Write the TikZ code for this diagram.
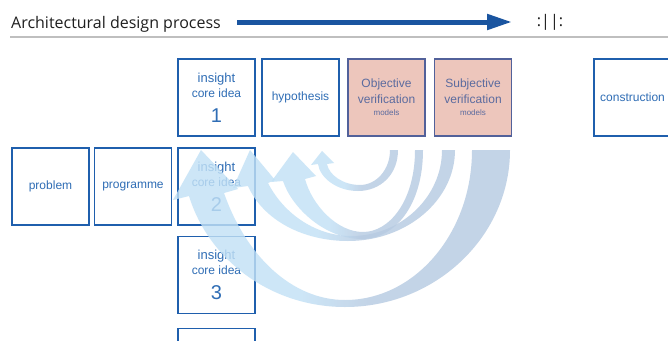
\documentclass[tikz,border=0pt]{standalone}
\usepackage{fontspec}
\setmainfont{Liberation Sans}
\newfontfamily\headfont{Open Sans}
\usetikzlibrary{arrows.meta}

\definecolor{boxblue}{HTML}{1F5FAD}
\definecolor{textblue}{HTML}{2F6DB5}
\definecolor{verifpink}{HTML}{EDC6BC}
\definecolor{verifline}{HTML}{52619A}
\definecolor{veriftext}{HTML}{5B6B9F}
\definecolor{headblue}{HTML}{1A55A0}
\definecolor{skyswoosh}{HTML}{C2E1F6}
\definecolor{steelswoosh}{HTML}{B7CBE2}

\pgfdeclarehorizontalshading{swoosh}{100bp}{color(0bp)=(skyswoosh); color(25bp)=(skyswoosh); color(44bp)=(skyswoosh); color(54bp)=(steelswoosh); color(75bp)=(steelswoosh); color(100bp)=(steelswoosh)}

\newcommand{\insighttext}[1]{{\fontsize{13}{15}\selectfont insight}\\core idea\\[10pt]{\fontsize{20}{24}\selectfont #1}}

\begin{document}
\begin{tikzpicture}[x=1pt,y=-1pt]

\tikzset{BoxStyle/.style={draw=boxblue, line width=1.6pt, minimum size=77pt, inner sep=0pt,
    text=textblue, align=center, font=\fontsize{12}{15}\selectfont}}
\tikzset{VerifStyle/.style={BoxStyle, draw=verifline, fill=verifpink, text=veriftext,
    font=\fontsize{12}{16}\selectfont}}
\tikzset{SwooshStyle/.style={shade, shading=swoosh, opacity=0.82}}

\fill[white] (0,0) rectangle (668,340);
\useasboundingbox (0,0) rectangle (668,340);

\node[anchor=base west, inner sep=0pt, text=black!88, font=\headfont\fontsize{16}{19}\selectfont] (title) at (11,28) {Architectural design process};
\node[inner sep=0pt, text=black!88, font=\headfont\fontsize{16}{19}\selectfont] (mark) at (550,22) {:||:};
\coordinate (hdr-start) at (237,22);
\coordinate (hdr-end) at (512,22);
\draw[headblue, line width=5pt, -{Triangle[length=25pt,width=15pt]}] (hdr-start) -- (hdr-end);
\coordinate (rule-l) at (10,37);
\coordinate (rule-r) at (668,37);
\draw[gray!50, line width=1.5pt] (rule-l) -- (rule-r);

\node[BoxStyle] (problem) at (50.5,186.5) {problem};
\node[BoxStyle] (programme) at (133,186.5) {programme};
\node[BoxStyle] (insight1) at (216.5,97.5) {\insighttext{1}};
\node[BoxStyle] (insight2) at (216.5,186.5) {\insighttext{2}};
\node[BoxStyle] (insight3) at (216.5,275) {\insighttext{3}};
\node[BoxStyle] (insight4) at (216.5,367) {};
\node[BoxStyle] (hypothesis) at (300.5,97.5) {hypothesis};
\node[VerifStyle] (objective) at (386.5,97.5) {Objective\\verification\\[-4pt]{\fontsize{8}{10}\selectfont models}};
\node[VerifStyle] (subjective) at (473,97.5) {Subjective\\verification\\[-4pt]{\fontsize{8}{10}\selectfont models}};
\node[BoxStyle] (construction) at (632.5,97.5) {construction};

\path[SwooshStyle] (510,150) .. controls (510,236) and (436,307) .. (345,307)
    .. controls (272,307) and (209,261) .. (189,196)
    -- (173,200) -- (201,150) -- (238,189) -- (224,193)
    .. controls (246,256) and (292,300) .. (345,300)
    .. controls (415,300) and (472,233) .. (472,150) -- cycle;
\path[SwooshStyle] (455,150) .. controls (455,200) and (407,241) .. (348,241)
    .. controls (303,241) and (263,220) .. (248,186)
    -- (233,188) -- (250,150) -- (275,180) -- (268,183)
    .. controls (285,216) and (318,236) .. (351,236)
    .. controls (401,236) and (442,197) .. (442,150) -- cycle;
\path[SwooshStyle] (423,150) .. controls (423,205) and (395,239) .. (362,239)
    .. controls (325,239) and (292,208) .. (283,181)
    -- (271,182) -- (293,152) -- (316,176) -- (305,179)
    .. controls (312,205) and (337,232) .. (363,232)
    .. controls (390,232) and (415,200) .. (415,150) -- cycle;
\path[SwooshStyle] (398,150) .. controls (398,175) and (380,191) .. (358,191)
    .. controls (337,191) and (320,178) .. (318,164)
    -- (311,165) -- (322,151) -- (334,163) -- (327,164)
    .. controls (329,175) and (343,185) .. (360,185)
    .. controls (376,185) and (390,170) .. (390,150) -- cycle;

\end{tikzpicture}
\end{document}
